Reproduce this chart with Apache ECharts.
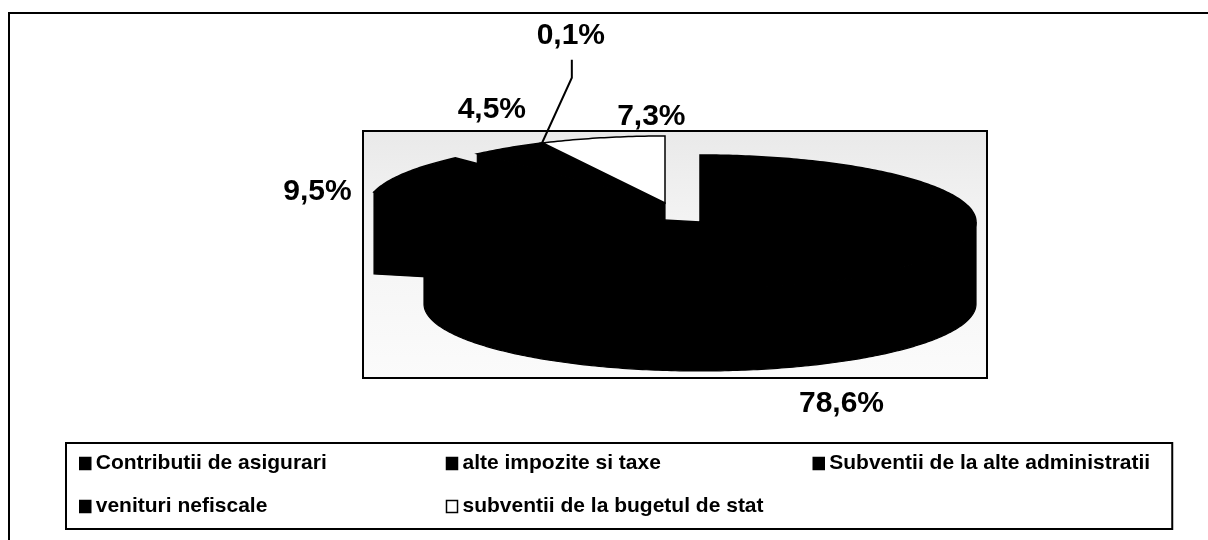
<!DOCTYPE html>
<html>
<head>
<meta charset="utf-8">
<script src="https://cdn.jsdelivr.net/npm/echarts@6/dist/echarts.min.js"></script>
<style>
  html, body { margin: 0; padding: 0; background: #fff; }
  #chart { width: 1208px; height: 540px; }
</style>
</head>
<body>
<div id="chart"></div>
<script>
// data
var categories = [
  'Contributii de asigurari',
  'alte impozite si taxe',
  'Subventii de la alte administratii',
  'venituri nefiscale',
  'subventii de la bugetul de stat'
]
var values = [78.6, 9.5, 4.5, 0.1, 7.3]
var percentLabels = ['78,6%', '9,5%', '4,5%', '0,1%', '7,3%']

// look of each slice
var sliceColors = ['#000', '#000', '#000', '#000', '#fff']

// 3d pie layout (px): centre, radii of the top ellipse, wall height
var pie = { cx: 665, cy: 203, rx: 276, ry: 67, depth: 82 }
// exploded slices, shift of the slice centre
var explode = [[35, 19], [-22, 4], [0, 0], [0, 0], [0, 0]]
// labels were dragged around in the original, nudge from the default spot
var labelNudge = [[-74, 12], [-26, 41], [24, -1], [60, -67], [65, 23]]

var total = values.reduce(function (a, b) { return a + b }, 0)
var startAngles = []
var acc = 0
values.forEach(function (v) {
  startAngles.push(acc / total * Math.PI * 2)
  acc += v
})

function pt(cx, cy, a) {
  return [cx + pie.rx * Math.sin(a), cy - pie.ry * Math.cos(a)]
}

function arc(cx, cy, a0, a1, dy) {
  var n = Math.max(2, Math.ceil((a1 - a0) / 0.015))
  var pts = []
  for (var k = 0; k <= n; k++) {
    var p = pt(cx, cy, a0 + (a1 - a0) * k / n)
    pts.push([p[0], p[1] + (dy || 0)])
  }
  return pts
}

// a cut face is only seen when the neighbour slice is moved away
function separated(i, j) {
  return explode[i][0] !== explode[j][0] || explode[i][1] !== explode[j][1]
}

function makeRender(i) {
  return function (params, api) {
    var v = api.value(0)
    var n = values.length
    var a0 = startAngles[i]
    var a1 = a0 + v / total * Math.PI * 2
    var cx = pie.cx + explode[i][0]
    var cy = pie.cy + explode[i][1]
    var d = pie.depth
    var fill = sliceColors[i]
    var children = []

    function face(a) {
      var p = pt(cx, cy, a)
      return {
        type: 'polygon',
        z2: 1,
        shape: { points: [[cx, cy], p, [p[0], p[1] + d], [cx, cy + d]] },
        style: { fill: fill, stroke: '#000', lineWidth: 1.2 }
      }
    }
    if (Math.sin(a0) < -1e-6 && separated(i, (i + n - 1) % n)) children.push(face(a0))
    if (Math.sin(a1) > 1e-6 && separated(i, (i + 1) % n)) children.push(face(a1))

    // outer wall on the front half
    var w0 = Math.max(a0, Math.PI / 2)
    var w1 = Math.min(a1, Math.PI * 1.5)
    if (w1 > w0) {
      var upper = arc(cx, cy, w0, w1, 0)
      var lower = arc(cx, cy, w0, w1, d).reverse()
      children.push({
        type: 'polygon',
        z2: 2,
        shape: { points: upper.concat(lower) },
        style: { fill: fill, stroke: '#000', lineWidth: 1.2 }
      })
    }

    // top face
    children.push({
      type: 'polygon',
      z2: 5,
      shape: { points: [[cx, cy]].concat(arc(cx, cy, a0, a1, 0)) },
      style: { fill: fill, stroke: '#000', lineWidth: 1.5 }
    })

    // label
    var m = (a0 + a1) / 2
    var anchor = pt(cx, cy, m)
    if (Math.cos(m) < 0) anchor[1] += d
    var lx = anchor[0] + Math.sin(m) * 70 + labelNudge[i][0]
    var ly = anchor[1] - Math.cos(m) * 45 + labelNudge[i][1]
    children.push({
      type: 'text',
      z2: 20,
      x: lx,
      y: ly,
      style: {
        text: percentLabels[i],
        fill: '#000',
        fontFamily: 'Liberation Sans, Arial, sans-serif',
        fontWeight: 'bold',
        fontSize: 30,
        align: 'center',
        verticalAlign: 'middle'
      }
    })
    // leader line for the tiny slice
    if (v < 1) {
      children.push({
        type: 'polyline',
        z2: 20,
        shape: { points: [[lx + 1, ly + 24], [lx + 1, ly + 42], anchor] },
        style: { stroke: '#000', lineWidth: 2, fill: null }
      })
    }

    return { type: 'group', children: children }
  }
}

var series = categories.map(function (name, i) {
  return {
    name: name,
    type: 'custom',
    coordinateSystem: 'none',
    silent: true,
    itemStyle: { color: sliceColors[i] },
    renderItem: makeRender(i),
    data: [[values[i]]]
  }
})

var legendData = categories.map(function (name, i) {
  return {
    name: name,
    itemStyle: { color: sliceColors[i], borderColor: '#000', borderWidth: 1.5 }
  }
})

var myChart = echarts.init(document.getElementById('chart'))
var option = {
  animation: false,
  backgroundColor: '#fff',
  graphic: [
    {
      // outer frame
      type: 'rect',
      z: 0,
      shape: { x: 9, y: 13, width: 1300, height: 600 },
      style: { fill: 'none', stroke: '#000', lineWidth: 2 }
    },
    {
      // plot area
      type: 'rect',
      z: 1,
      shape: { x: 363, y: 131, width: 624, height: 247 },
      style: {
        fill: new echarts.graphic.LinearGradient(0, 0, 0, 1, [
          { offset: 0, color: '#e9e9e9' },
          { offset: 0.35, color: '#f3f3f3' },
          { offset: 1, color: '#fbfbfb' }
        ]),
        stroke: '#000',
        lineWidth: 2
      }
    }
  ],
  legend: {
    left: 66,
    top: 443,
    width: 1080,
    orient: 'horizontal',
    padding: [10, 15, 12, 13],
    borderColor: '#000',
    borderWidth: 2,
    backgroundColor: '#fff',
    selectedMode: false,
    icon: 'rect',
    itemWidth: 11,
    itemHeight: 12,
    itemGap: 22,
    textStyle: {
      width: 328,
      color: '#000',
      fontFamily: 'Liberation Sans, Arial, sans-serif',
      fontWeight: 'bold',
      fontSize: 21,
      lineHeight: 21
    },
    data: legendData
  },
  series: series
}
myChart.setOption(option)
</script>
</body>
</html>
